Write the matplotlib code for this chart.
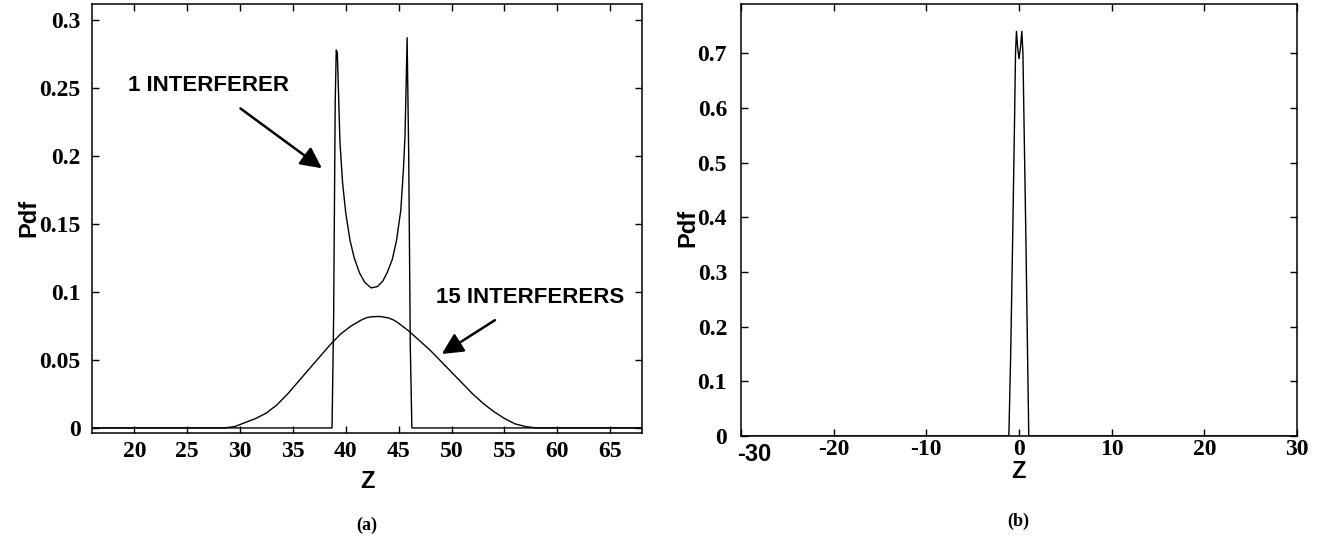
import matplotlib
matplotlib.use('Agg')
import matplotlib.pyplot as plt
from matplotlib.transforms import ScaledTranslation

# (a) 1 interferer
z_one = [16, 38.7, 38.85, 39.0, 39.1, 39.2, 39.3, 39.45, 39.7, 40.0, 40.4, 40.8, 41.3,
         41.8, 42.4, 43.0, 43.5, 43.9, 44.4, 44.8, 45.2, 45.45, 45.6, 45.7, 45.8,
         45.95, 46.1, 46.25, 68]
pdf_one = [0, 0, 0.08, 0.24, 0.278, 0.276, 0.25, 0.21, 0.18, 0.158, 0.138, 0.125, 0.114,
           0.107, 0.103, 0.104, 0.108, 0.114, 0.124, 0.138, 0.16, 0.19, 0.215, 0.25, 0.287,
           0.2, 0.06, 0, 0]

# (a) 15 interferers
z_fifteen = [16, 28.5, 29.5, 30.5, 31.5, 32.5, 33.5, 34.5, 35.5, 36.5, 37.5, 38.5, 39.5,
             40.5, 41.5, 42.0, 42.5, 43.2, 44, 44.5, 45, 46, 47, 48, 49, 50, 51, 52, 53,
             54, 55, 56, 57, 58, 68]
pdf_fifteen = [0, 0, 0.001, 0.004, 0.007, 0.011, 0.017, 0.025, 0.034, 0.043, 0.052, 0.061,
               0.069, 0.075, 0.0795, 0.0812, 0.0818, 0.082, 0.081, 0.0795, 0.077, 0.071,
               0.064, 0.057, 0.049, 0.041, 0.033, 0.025, 0.018, 0.012, 0.007, 0.003,
               0.001, 0, 0]

# (b)
z_b = [-30, -1.1, -0.9, -0.7, -0.5, -0.38, -0.28, -0.15, 0.0, 0.15, 0.3, 0.42, 0.55,
       0.75, 0.92, 1.05, 30]
pdf_b = [0, 0, 0.15, 0.35, 0.56, 0.70, 0.74, 0.71, 0.69, 0.71, 0.74, 0.70, 0.56,
         0.35, 0.15, 0, 0]

xticks_a = [20, 25, 30, 35, 40, 45, 50, 55, 60, 65]
yticks_a = [0, 0.05, 0.1, 0.15, 0.2, 0.25, 0.3]
ylabels_a = ['0', '0.05', '0.1', '0.15', '0.2', '0.25', '0.3']
xticks_b = [-30, -20, -10, 0, 10, 20, 30]
yticks_b = [0, 0.1, 0.2, 0.3, 0.4, 0.5, 0.6, 0.7]
ylabels_b = ['0', '0.1', '0.2', '0.3', '0.4', '0.5', '0.6', '0.7']

serif = 'Liberation Serif'
sans = 'Liberation Sans'

fig = plt.figure(figsize=(13.23, 5.48), dpi=100)
ax1 = fig.add_axes([0.0695, 0.2099, 0.4157, 0.7828])
ax2 = fig.add_axes([0.5601, 0.2044, 0.4203, 0.7883])

for ax in (ax1, ax2):
    ax.tick_params(direction='in', top=True, right=True, length=5, width=1)
    for s in ax.spines.values():
        s.set_linewidth(1.1)

# (a)
ax1.plot(z_one, pdf_one, color='black', lw=1.0)
ax1.plot(z_fifteen, pdf_fifteen, color='black', lw=1.0)
ax1.set_xlim(16, 68)
ax1.set_ylim(-0.0037, 0.3118)
ax1.set_xticks(xticks_a)
ax1.set_xticklabels([str(t) for t in xticks_a], fontfamily=serif, fontweight='bold', fontsize=17)
ax1.set_yticks(yticks_a)
ax1.set_yticklabels(ylabels_a, fontfamily=serif, fontweight='bold', fontsize=17)
ax1.tick_params(axis='x', pad=6)
ax1.tick_params(axis='y', pad=8)

ax1.annotate('1 INTERFERER', xy=(37.74, 0.191), xytext=(27.06, 0.252),
             fontfamily=sans, fontweight='bold', fontsize=16, ha='center', va='center',
             arrowprops=dict(arrowstyle='-|>', color='black', lw=1.8, mutation_scale=32,
                             shrinkA=12, shrinkB=0))
ax1.annotate('15 INTERFERERS', xy=(49.08, 0.0544), xytext=(57.4, 0.0956),
             fontfamily=sans, fontweight='bold', fontsize=16, ha='center', va='center',
             arrowprops=dict(arrowstyle='-|>', color='black', lw=1.8, mutation_scale=32,
                             shrinkA=12, shrinkB=0))

# (b)
ax2.plot(z_b, pdf_b, color='black', lw=1.0)
ax2.set_xlim(-30, 30)
ax2.set_ylim(0, 0.79)
ax2.set_xticks(xticks_b)
lbls = ax2.set_xticklabels([str(t) for t in xticks_b], fontfamily=serif, fontweight='bold',
                           fontsize=17)
ax2.set_yticks(yticks_b)
ax2.set_yticklabels(ylabels_b, fontfamily=serif, fontweight='bold', fontsize=17)
ax2.tick_params(axis='x', pad=2)
ax2.tick_params(axis='y', pad=10)
# the -30 label is set in a sans face, a bit lower and to the right
lbls[0].set_fontfamily(sans)
lbls[0].set_fontsize(17)
lbls[0].set_transform(lbls[0].get_transform() +
                      ScaledTranslation(13 / 100, -4 / 100, fig.dpi_scale_trans))

# axis titles and panel captions
fig.text(29 / 1323, 1 - 218 / 548, 'Pdf', rotation=90, ha='center', va='center',
         fontfamily=sans, fontweight='bold', fontsize=17)
fig.text(688 / 1323, 1 - 228 / 548, 'Pdf', rotation=90, ha='center', va='center',
         fontfamily=sans, fontweight='bold', fontsize=17)
fig.text(367 / 1323, 1 - 481 / 548, 'Z', ha='center', va='center',
         fontfamily=sans, fontweight='bold', fontsize=17)
fig.text(1018 / 1323, 1 - 472 / 548, 'Z', ha='center', va='center',
         fontfamily=sans, fontweight='bold', fontsize=17)
fig.text(367 / 1323, 1 - 525 / 548, '(a)', ha='center', va='center',
         fontfamily=serif, fontweight='bold', fontsize=13)
fig.text(1018 / 1323, 1 - 521 / 548, '(b)', ha='center', va='center',
         fontfamily=serif, fontweight='bold', fontsize=13)

fig.savefig('out.png', dpi=100)
